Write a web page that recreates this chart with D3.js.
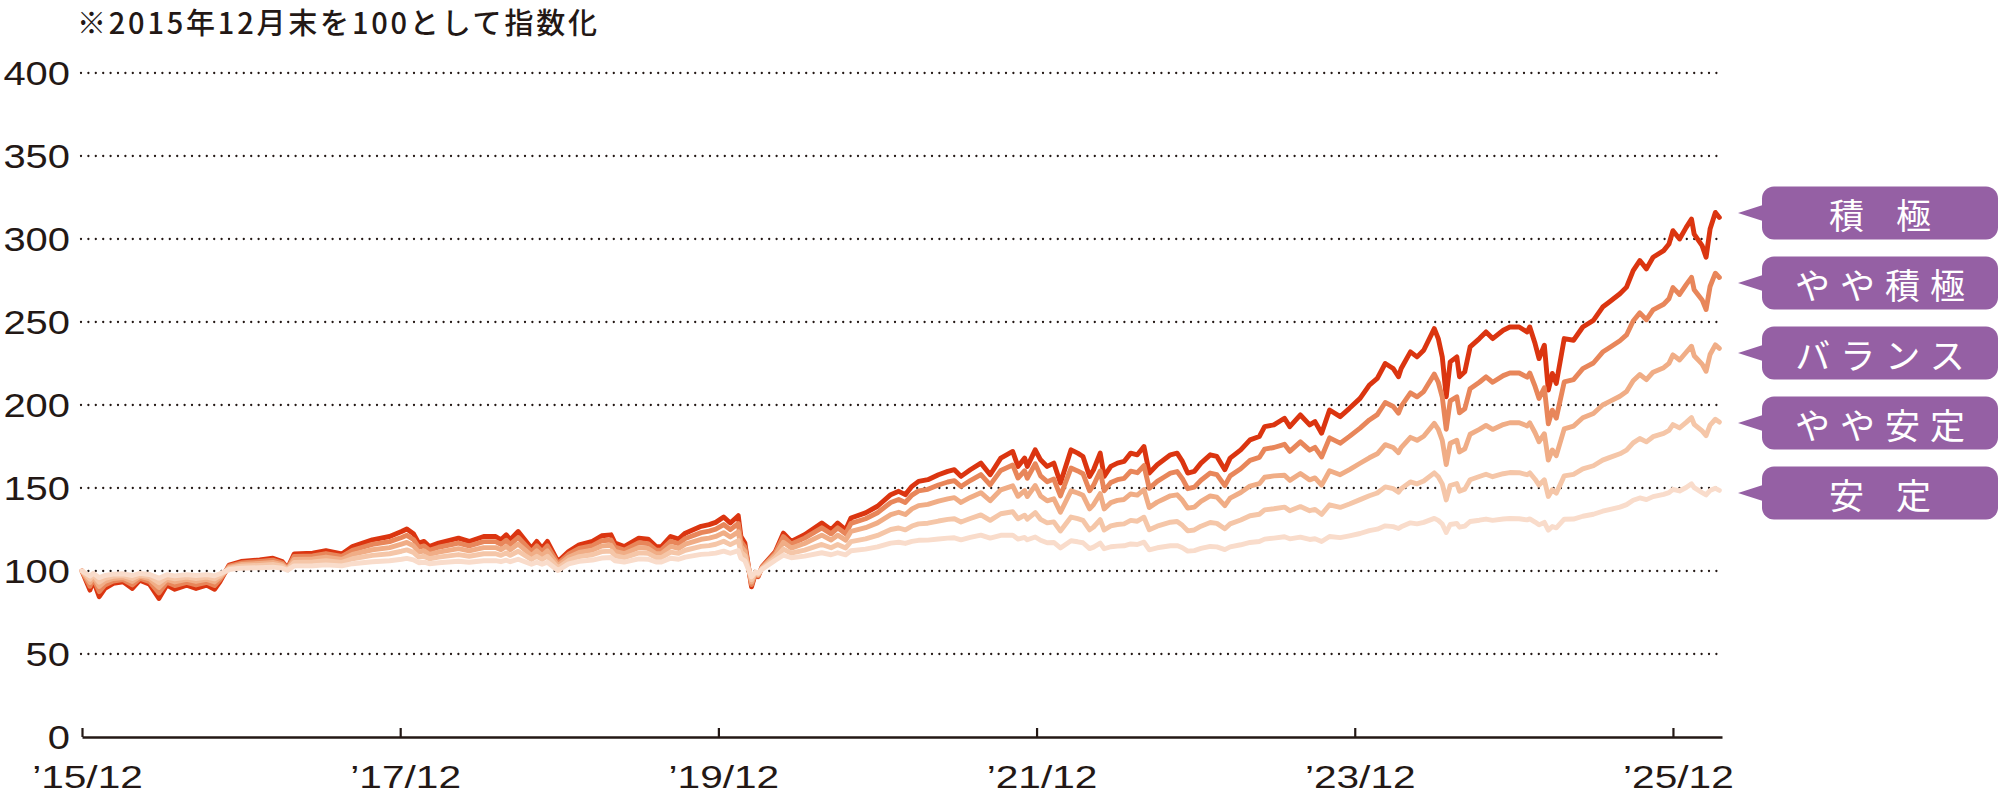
<!DOCTYPE html>
<html><head><meta charset="utf-8">
<script src="https://cdn.jsdelivr.net/npm/d3@7"></script>
<style>
html,body{margin:0;padding:0;background:#fff;}
svg{display:block;}
</style></head><body>
<svg id="chart" width="2000" height="800"></svg>
<script>
// months elapsed since end of Dec 2015
const months = [0,0.6,0.85,1.3,1.73,2.36,3.1,3.8,4.36,5.1,5.8,6.4,7,7.9,8.6,9.4,10,10.4,11.1,
12,13.4,14.4,15.1,15.5,16,17.4,18.4,19.6,20.4,21.9,23.2,24.1,24.5,25,25.4,25.8,26.2,26.9,28.4,29.2,30.3,31.2,31.6,32,32.3,32.9,33.5,33.9,34.3,34.7,35.1,35.9,
36.7,37.5,38.5,39.2,39.9,40.2,40.9,42,42.7,43.3,43.7,44.4,45,45.5,46.7,47.3,47.8,48.4,48.9,49.5,49.7,50,50.5,50.8,51,51.3,
52.3,52.9,53.5,54.5,55.8,56.5,57,57.6,58,59.1,60,61,61.6,62.1,62.6,63.1,63.8,64.6,65.3,65.8,66.3,67,67.8,68.5,69.3,70.2,70.6,71.1,71.3,71.9,
72.3,72.8,73.3,73.8,74.6,75.1,75.5,76,76.3,76.8,77.1,77.6,78.1,78.6,79.1,79.6,80.1,80.5,81.1,81.6,82.1,82.6,83,83.4,83.9,84.4,85.1,85.6,86.2,86.6,87.4,88.1,88.8,89.2,89.9,
90.7,91.1,91.9,92.6,93,93.5,94.1,94.9,95.6,96.4,97.1,97.7,98.3,98.9,99.3,99.5,100.2,100.7,101.2,102,102.3,102.6,102.9,103.2,103.7,103.9,104.3,104.7,105.4,105.9,106.4,107.2,107.7,108.4,109,109.2,109.6,109.9,110.3,110.6,110.9,111.2,111.8,
112.5,113.2,114,114.7,115.2,116,116.5,117,117.5,118,118.5,119.3,119.7,120,120.5,121,121.4,121.6,122.2,122.5,122.8,123.2,123.5];

const sekkyoku = [100,88.5,94.5,84.5,89.5,92.5,93.5,89.5,94.5,92,83.5,91.5,89,91.5,89.5,91.5,89,93.5,103.6,
105.7,106.7,107.7,105.7,101.6,110.3,110.7,112.3,110.3,114.7,118.8,120.8,123.8,125.3,122.4,116.8,117.8,114.7,116.8,119.8,117.8,120.8,120.8,118.8,121.8,118.8,123.8,117.8,113.7,117.8,113.7,117.8,105.7,
111.7,115.8,117.8,121.2,121.8,116.8,114.7,119.8,119.2,114.7,114.7,120.8,119.2,122.8,126.9,127.9,129.3,132.5,128.9,133.3,120.8,116.8,90.5,98.6,96.6,102.6,
111.7,122.8,117.8,121.8,128.9,124.8,128.9,124.8,131.9,135,139,146,148,146,151,154,155,158,160,161,157,161,165,158,168,172,163,168,163,173,
167,163,165,153,173,171,169,157,161,171,157,163,165,166,171,170,175,159,164,167,170,171,166,159,160,165,170,169,161,168,173,179,181,187,188,
192,187,194,188,190,183,197,193,198,204,212,216,225,222,217,222,232,229,233,246,240,229,205,226,229,217,220,235,240,244,240,245,247,247,244,247,237,228,236,209,219,213,240,
239,247,251,259,262,267,271,281,287,282,289,293,297,305,300,307,312,303,296,289,306,316,313];

const yayaSekkyoku = [100,90.8,95.6,87.6,91.6,94.0,94.8,91.6,95.6,93.6,86.8,93.2,91.2,93.2,91.6,93.2,91.2,94.8,102.9,
104.8,105.7,106.5,104.8,101.4,108.8,109.1,110.5,108.8,112.5,116.0,117.7,120.2,121.5,119.0,114.3,115.1,112.5,114.3,116.8,115.1,117.7,117.7,116.0,118.5,116.0,120.2,115.1,111.6,115.1,111.6,115.1,104.5,
110.1,113.6,115.3,118.2,118.7,114.4,112.6,117.0,116.5,112.6,112.6,117.9,116.5,119.6,123.1,124.0,125.2,128.0,124.9,128.6,117.9,114.4,91.8,98.8,97.1,102.3,
110.9,120.7,116.2,119.8,126.0,122.4,126.0,122.4,128.7,131.5,135.1,141.3,143.1,141.3,145.7,148.3,149.2,151.8,153.6,154.4,150.9,154.5,158.1,151.9,160.6,163.9,156.0,160.4,155.9,164.6,
157.3,153.8,155.4,145.2,162.0,160.3,158.6,148.3,151.7,160.2,148.3,153.3,155.0,155.8,160.1,159.2,163.5,149.8,154.0,156.5,159.0,159.9,155.6,149.6,150.5,154.7,159.0,158.1,151.4,157.3,161.6,166.6,168.4,173.4,174.4,
176.3,172.1,177.8,172.8,174.5,168.7,180.2,177.0,181.1,186.1,191.0,194.2,201.5,199.1,195.1,199.1,207.3,204.9,208.1,218.6,213.7,204.8,185.4,202.5,204.9,195.3,197.7,209.8,213.7,217.0,213.7,217.7,219.3,219.3,216.8,219.3,211.2,204.0,210.4,188.7,196.9,192.1,213.9,
215.3,221.9,225.3,231.9,234.5,238.7,242.2,250.6,255.5,251.4,257.3,260.7,264.0,270.7,266.6,272.5,276.9,269.4,263.3,257.5,271.4,279.4,276.8];

const balance = [100,93.1,96.7,90.7,93.7,95.5,96.1,93.7,96.7,95.2,90.1,94.9,93.4,94.9,93.7,94.9,93.4,96.1,102.2,
103.9,104.6,105.2,103.9,101.1,107.0,107.3,108.4,107.0,110.0,112.8,114.1,116.2,117.2,115.2,111.4,112.1,110.0,111.4,113.5,112.1,114.1,114.1,112.8,114.8,112.8,116.2,112.1,109.3,112.1,109.3,112.1,103.2,
108.3,111.2,112.6,115.1,115.5,111.9,110.4,114.1,113.6,110.4,110.4,114.8,113.6,116.2,119.1,119.8,120.8,123.1,120.5,123.6,114.8,111.9,93.3,99.0,97.6,101.9,
109.6,117.3,113.8,116.6,121.6,118.7,121.6,118.6,123.8,126.1,129.0,134.0,135.4,134.0,137.4,139.4,140.1,142.1,143.5,144.2,141.3,144.3,147.2,142.3,148.9,151.3,145.0,148.4,144.9,151.5,
145.2,142.3,143.5,135.4,148.3,147.0,145.6,137.4,140.0,146.6,137.4,141.2,142.5,143.1,146.4,145.7,149.1,138.2,141.5,143.4,145.3,145.9,142.6,137.9,138.5,141.9,145.2,144.5,139.4,143.9,147.3,151.2,152.6,156.5,157.3,
157.7,154.6,158.7,154.9,156.1,151.7,160.4,158.0,161.1,164.9,168.2,170.6,176.1,174.4,171.3,174.3,180.5,178.7,181.2,188.9,185.3,178.7,164.1,177.0,178.8,171.7,173.5,182.4,185.3,187.7,185.3,188.2,189.3,189.3,187.4,189.2,183.3,177.9,182.7,166.8,172.9,169.5,185.6,
187.3,192.3,194.9,200.0,202.0,205.3,208.1,214.6,218.4,215.3,219.8,222.5,225.1,230.2,227.1,231.8,235.4,229.7,224.6,220.3,230.4,236.2,234.1];

const yayaAntei = [100,95.1,97.6,93.3,95.5,96.8,97.2,95.5,97.6,96.6,92.9,96.3,95.3,96.3,95.5,96.3,95.3,97.2,101.5,
102.9,103.4,103.9,102.9,100.8,105.2,105.4,106.2,105.2,107.4,109.4,110.4,111.9,112.7,111.2,108.4,108.9,107.4,108.4,109.9,108.9,110.4,110.4,109.4,110.9,109.4,111.9,108.9,106.9,108.9,106.9,108.9,101.8,
106.4,108.7,109.8,111.7,112.0,109.2,108.1,110.9,110.6,108.1,108.1,111.4,110.6,112.5,114.8,115.3,116.1,117.9,115.9,118.3,111.4,109.2,94.8,99.2,98.1,101.4,
108.0,113.2,110.7,112.6,116.0,114.0,116.0,113.9,117.7,119.3,121.4,125.0,125.9,124.8,127.1,128.4,128.8,130.1,131.1,131.5,129.5,131.6,133.8,130.5,134.5,135.7,131.5,133.6,131.2,135.2,
131.1,129.0,129.6,124.1,132.5,131.5,130.5,124.8,126.5,130.9,124.7,127.2,128.0,128.4,130.5,130.0,132.4,124.8,127.0,128.2,129.4,129.8,127.5,124.2,124.7,127.0,129.2,128.7,125.4,128.4,130.7,133.3,134.2,136.8,137.5,
138.5,136.3,138.8,136.3,137.1,134.1,139.9,138.3,140.4,143.0,145.3,147.0,150.7,149.6,147.5,149.5,153.7,152.5,154.2,159.1,156.8,152.5,142.8,151.5,152.7,148.1,149.3,155.0,156.9,158.3,156.8,158.6,159.3,159.2,158.0,159.1,155.3,151.8,154.9,144.9,148.9,146.9,157.3,
158.2,161.5,163.4,166.8,168.3,170.6,172.8,177.2,179.8,177.8,180.9,182.9,184.7,188.2,186.2,189.5,192.4,188.4,184.4,181.6,187.9,191.4,189.7];

const antei = [100,97.0,98.6,96.0,97.3,98.1,98.3,97.3,98.6,97.9,95.7,97.8,97.1,97.8,97.3,97.8,97.1,98.3,100.9,
101.7,102.0,102.3,101.7,100.5,103.1,103.2,103.7,103.1,104.4,105.6,106.2,107.1,107.6,106.7,105.0,105.3,104.4,105.0,105.9,105.3,106.2,106.2,105.6,106.5,105.6,107.1,105.3,104.1,105.3,104.1,105.3,100.3,
104.3,105.8,106.6,107.8,108.1,106.2,105.4,107.3,107.1,105.4,105.4,107.7,107.1,108.4,110.0,110.3,110.8,112.0,110.7,112.3,107.7,106.2,96.5,99.5,98.7,101.0,
106.5,109.5,108.0,109.0,111.0,109.8,111.0,109.7,112.2,113.2,114.5,116.8,117.3,116.6,117.8,118.5,118.6,119.3,119.8,120.0,118.8,120.2,121.6,119.8,121.5,121.6,119.2,120.2,118.8,120.5,
118.5,117.0,117.2,113.9,118.2,117.6,117.0,113.5,114.4,116.8,113.4,114.6,115.0,115.2,116.3,116.0,117.4,112.8,114.0,114.6,115.2,115.3,114.0,112.0,112.3,113.6,114.8,114.5,112.9,114.5,115.8,117.2,117.8,119.2,119.8,
120.6,119.4,120.4,119.0,119.4,117.8,120.8,120.1,121.2,122.6,124.3,125.2,127.2,126.7,125.6,126.6,129.0,128.4,129.3,131.7,130.5,128.3,123.2,128.0,128.6,126.4,127.0,129.8,130.6,131.3,130.5,131.3,131.6,131.5,130.8,131.4,129.5,127.8,129.3,124.6,126.8,126.0,131.2,
131.3,133.0,134.2,136.0,137.0,138.5,140.0,142.6,144.0,143.0,144.8,146.2,147.2,149.2,148.2,150.3,152.5,150.2,147.2,145.8,148.5,149.8,148.6];

const seriesNames = ["積極", "やや積極", "バランス", "やや安定", "安定"];
const seriesValues = [sekkyoku, yayaSekkyoku, balance, yayaAntei, antei];
const yTickValues = [0, 50, 100, 150, 200, 250, 300, 350, 400];
const xTickMonths = [0, 24, 48, 72, 96, 120];
const xTickLabels = ["’15/12", "’17/12", "’19/12", "’21/12", "’23/12", "’25/12"];
const titleText = "※2015年12月末を100として指数化";

// ---- styles ----
const ink = "#231815";
const lineColors = ["#db3510", "#e8865a", "#f0ad86", "#f5c6a8", "#f9dccb"];
const labelFill = "#9560a4";
const numFont = "'Liberation Sans', Arial, sans-serif";
const jpFont = "'Noto Sans CJK JP', 'Noto Sans', sans-serif";

const svg = d3.select("#chart");
const x = d3.scaleLinear().domain([0, 123.7]).range([82, 1722]);
const y = d3.scaleLinear().domain([0, 400]).range([737, 73]);

// title
svg.append("text")
  .attr("x", 77).attr("y", 34)
  .attr("textLength", 520).attr("lengthAdjust", "spacing")
  .style("font-family", jpFont).style("font-size", "29px").style("font-weight", 500)
  .attr("fill", ink).text(titleText);

// dotted gridlines
svg.append("g").selectAll("line")
  .data(yTickValues.filter(v => v > 0))
  .join("line")
  .attr("x1", 81).attr("x2", 1722)
  .attr("y1", d => y(d)).attr("y2", d => y(d))
  .attr("stroke", ink).attr("stroke-width", 2.3)
  .attr("stroke-linecap", "round")
  .attr("stroke-dasharray", "0 7.4");

// y axis labels
const yAxis = svg.append("g").attr("transform", "translate(70,0)")
  .call(d3.axisLeft(y).tickValues(yTickValues).tickSize(0).tickPadding(0).tickFormat(d3.format("d")));
yAxis.select(".domain").remove();
yAxis.selectAll("text")
  .attr("transform", "scale(1.21,1)")
  .attr("dy", "0.36em")
  .style("font-family", numFont).style("font-size", "33px").attr("fill", ink);

// series lines (darkest first, lighter drawn over)
const line = d3.line()
  .defined(d => d != null && !isNaN(d))
  .x((d, i) => x(months[i]))
  .y(d => y(d))
  .curve(d3.curveLinear);

svg.append("g").selectAll("path")
  .data(seriesValues)
  .join("path")
  .attr("d", d => line(d))
  .attr("fill", "none")
  .attr("stroke", (d, i) => lineColors[i])
  .attr("stroke-width", 4.9)
  .attr("stroke-linejoin", "round")
  .attr("stroke-linecap", "round");

// x axis
const xAxis = svg.append("g").attr("transform", `translate(0,${y(0)})`)
  .call(d3.axisBottom(x).tickValues(xTickMonths).tickSizeInner(-9).tickSizeOuter(0)
    .tickPadding(28).tickFormat((d, i) => xTickLabels[i]));
xAxis.select(".domain").attr("stroke", ink).attr("stroke-width", 2.6);
xAxis.selectAll(".tick line").attr("stroke", ink).attr("stroke-width", 2.2);
xAxis.selectAll("text")
  .attr("transform", "translate(5,0) scale(1.27,1)")
  .style("font-family", numFont).style("font-size", "32px").attr("fill", ink);

// legend labels
const lg = svg.append("g").selectAll("g")
  .data(seriesNames)
  .join("g")
  .attr("transform", (d, i) => `translate(0,${213 + 70 * i})`);
lg.append("path")
  .attr("d", "M1738,0 L1766,-9 L1766,9 Z")
  .attr("fill", labelFill);
lg.append("rect")
  .attr("x", 1762).attr("y", -26.5).attr("width", 236).attr("height", 53)
  .attr("rx", 12).attr("ry", 12)
  .attr("fill", labelFill);
lg.append("text")
  .attr("x", 1880).attr("y", 0)
  .attr("text-anchor", "middle")
  .attr("dominant-baseline", "central")
  .attr("dx", d => (d.length === 2 ? 16 : 5))
  .style("letter-spacing", d => (d.length === 2 ? "32px" : "10px"))
  .style("font-family", jpFont).style("font-size", "35px")
  .attr("fill", "#fff")
  .text(d => d);
</script>
</body></html>
